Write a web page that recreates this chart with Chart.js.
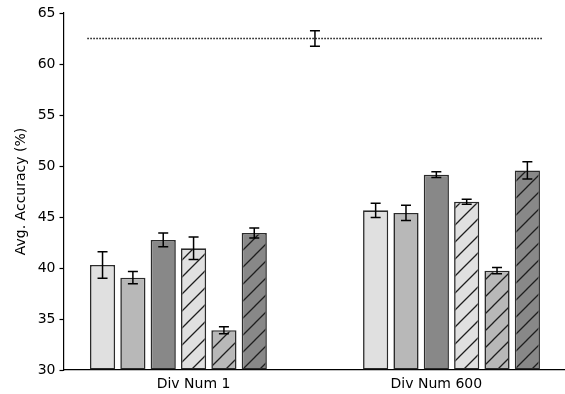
<!DOCTYPE html>
<html>
<head>
<meta charset="utf-8">
<script src="https://cdn.jsdelivr.net/npm/chart.js@4"></script>
<style>
  html, body { margin: 0; padding: 0; background: #fff; }
  #wrap { width: 565px; height: 394px; }
</style>
</head>
<body>
<div id="wrap"><canvas id="chart"></canvas></div>
<script>
// data
const groupLabels = ['Div Num 1', 'Div Num 600'];
const seriesNames = ['Method 1', 'Method 2', 'Method 3', 'Method 4', 'Method 5', 'Method 6'];
const seriesValues = [
    [40.3, 45.65],
    [39.05, 45.4],
    [42.75, 49.15],
    [41.93, 46.5],
    [33.9, 39.74],
    [43.43, 49.57]
];
const seriesErrors = [
    [1.3, 0.7],
    [0.6, 0.75],
    [0.67, 0.28],
    [1.1, 0.25],
    [0.35, 0.3],
    [0.5, 0.85]
];
const baselineValue = 62.5;
const baselineError = 0.75;
const yMin = 30, yMax = 65, yStep = 5;

// layout (x units = one bar slot)
const groupGap = 9;
const tickPositions = [3, 11];
const fills = ['#e0e0e0', '#b8b8b8', '#888888', '#e0e0e0', '#b8b8b8', '#888888'];
const hatched = [false, false, false, true, true, true];
const edgeColor = '#2b2b2b';

function hatchPattern(color) {
    const s = 17;
    const c = document.createElement('canvas');
    c.width = s; c.height = s;
    const g = c.getContext('2d');
    g.fillStyle = color;
    g.fillRect(0, 0, s, s);
    g.strokeStyle = '#1e1e1e';
    g.lineWidth = 1.3;
    g.beginPath();
    g.moveTo(-2, s + 2); g.lineTo(s + 2, -2);
    g.moveTo(-2, 2); g.lineTo(2, -2);
    g.moveTo(s - 2, s + 2); g.lineTo(s + 2, s - 2);
    g.stroke();
    return g.createPattern(c, 'repeat');
}

const datasets = seriesValues.map((vals, i) => ({
    type: 'bar',
    label: seriesNames[i],
    data: vals.map((v, g) => ({ x: g * groupGap + i, y: v })),
    errors: seriesErrors[i],
    backgroundColor: hatched[i] ? hatchPattern(fills[i]) : fills[i],
    borderColor: edgeColor,
    borderWidth: 1.6,
    borderSkipped: false,
    base: yMin,
    grouped: false,
    categoryPercentage: 1,
    barPercentage: 0.83
}));

const lastPos = (groupLabels.length - 1) * groupGap + seriesValues.length - 1;
datasets.push({
    type: 'line',
    label: 'baseline',
    data: [{ x: -0.5, y: baselineValue }, { x: lastPos + 0.5, y: baselineValue }],
    borderColor: '#000',
    borderWidth: 1.4,
    borderDash: [1.4, 1.6],
    borderCapStyle: 'butt',
    pointRadius: 0,
    fill: false
});

const errorBars = {
    id: 'errorBars',
    afterDatasetsDraw(chart) {
        const ctx = chart.ctx;
        const xs = chart.scales.x, ys = chart.scales.y;
        const cap = 5;
        const draw = (x, v, e) => {
            const px = xs.getPixelForValue(x);
            const top = ys.getPixelForValue(v + e);
            const bot = ys.getPixelForValue(v - e);
            ctx.beginPath();
            ctx.moveTo(px, top); ctx.lineTo(px, bot);
            ctx.moveTo(px - cap, top); ctx.lineTo(px + cap, top);
            ctx.moveTo(px - cap, bot); ctx.lineTo(px + cap, bot);
            ctx.stroke();
        };
        ctx.save();
        ctx.strokeStyle = '#000';
        ctx.lineWidth = 1.5;
        chart.data.datasets.forEach(ds => {
            if (!ds.errors) return;
            ds.data.forEach((p, j) => draw(p.x, p.y, ds.errors[j]));
        });
        // baseline error bar sits between the two groups
        draw((seriesValues.length - 1 + groupGap) / 2, baselineValue, baselineError);
        ctx.restore();
    }
};

Chart.defaults.font.family = 'DejaVu Sans';
Chart.defaults.font.size = 14;
Chart.defaults.color = '#000';

new Chart(document.getElementById('chart'), {
    type: 'bar',
    data: { datasets: datasets },
    plugins: [errorBars],
    options: {
        responsive: true,
        maintainAspectRatio: false,
        animation: false,
        layout: { padding: { top: 13, right: 0, left: 0, bottom: 0 } },
        plugins: { legend: { display: false }, tooltip: { enabled: false } },
        scales: {
            x: {
                type: 'linear',
                offset: false,
                min: -1.27,
                max: 15.24,
                afterBuildTicks: scale => {
                    scale.ticks = tickPositions.map(v => ({ value: v }));
                },
                afterFit: scale => { scale.height = 24; },
                ticks: {
                    padding: 6,
                    maxRotation: 0,
                    callback: (v, i) => groupLabels[i]
                },
                grid: { display: true, drawOnChartArea: false, drawTicks: false },
                border: { display: true, color: '#000', width: 1.2 }
            },
            y: {
                min: yMin,
                max: yMax,
                afterFit: scale => { scale.width = 64; },
                ticks: { stepSize: yStep, padding: 4 },
                grid: { drawOnChartArea: false, drawTicks: true, tickLength: 4.5, tickColor: '#000', tickWidth: 1.2 },
                border: { display: true, color: '#000', width: 1.2 },
                title: { display: true, text: 'Avg. Accuracy (%)', padding: { top: 13, bottom: 0 } }
            }
        }
    }
});
</script>
</body>
</html>
